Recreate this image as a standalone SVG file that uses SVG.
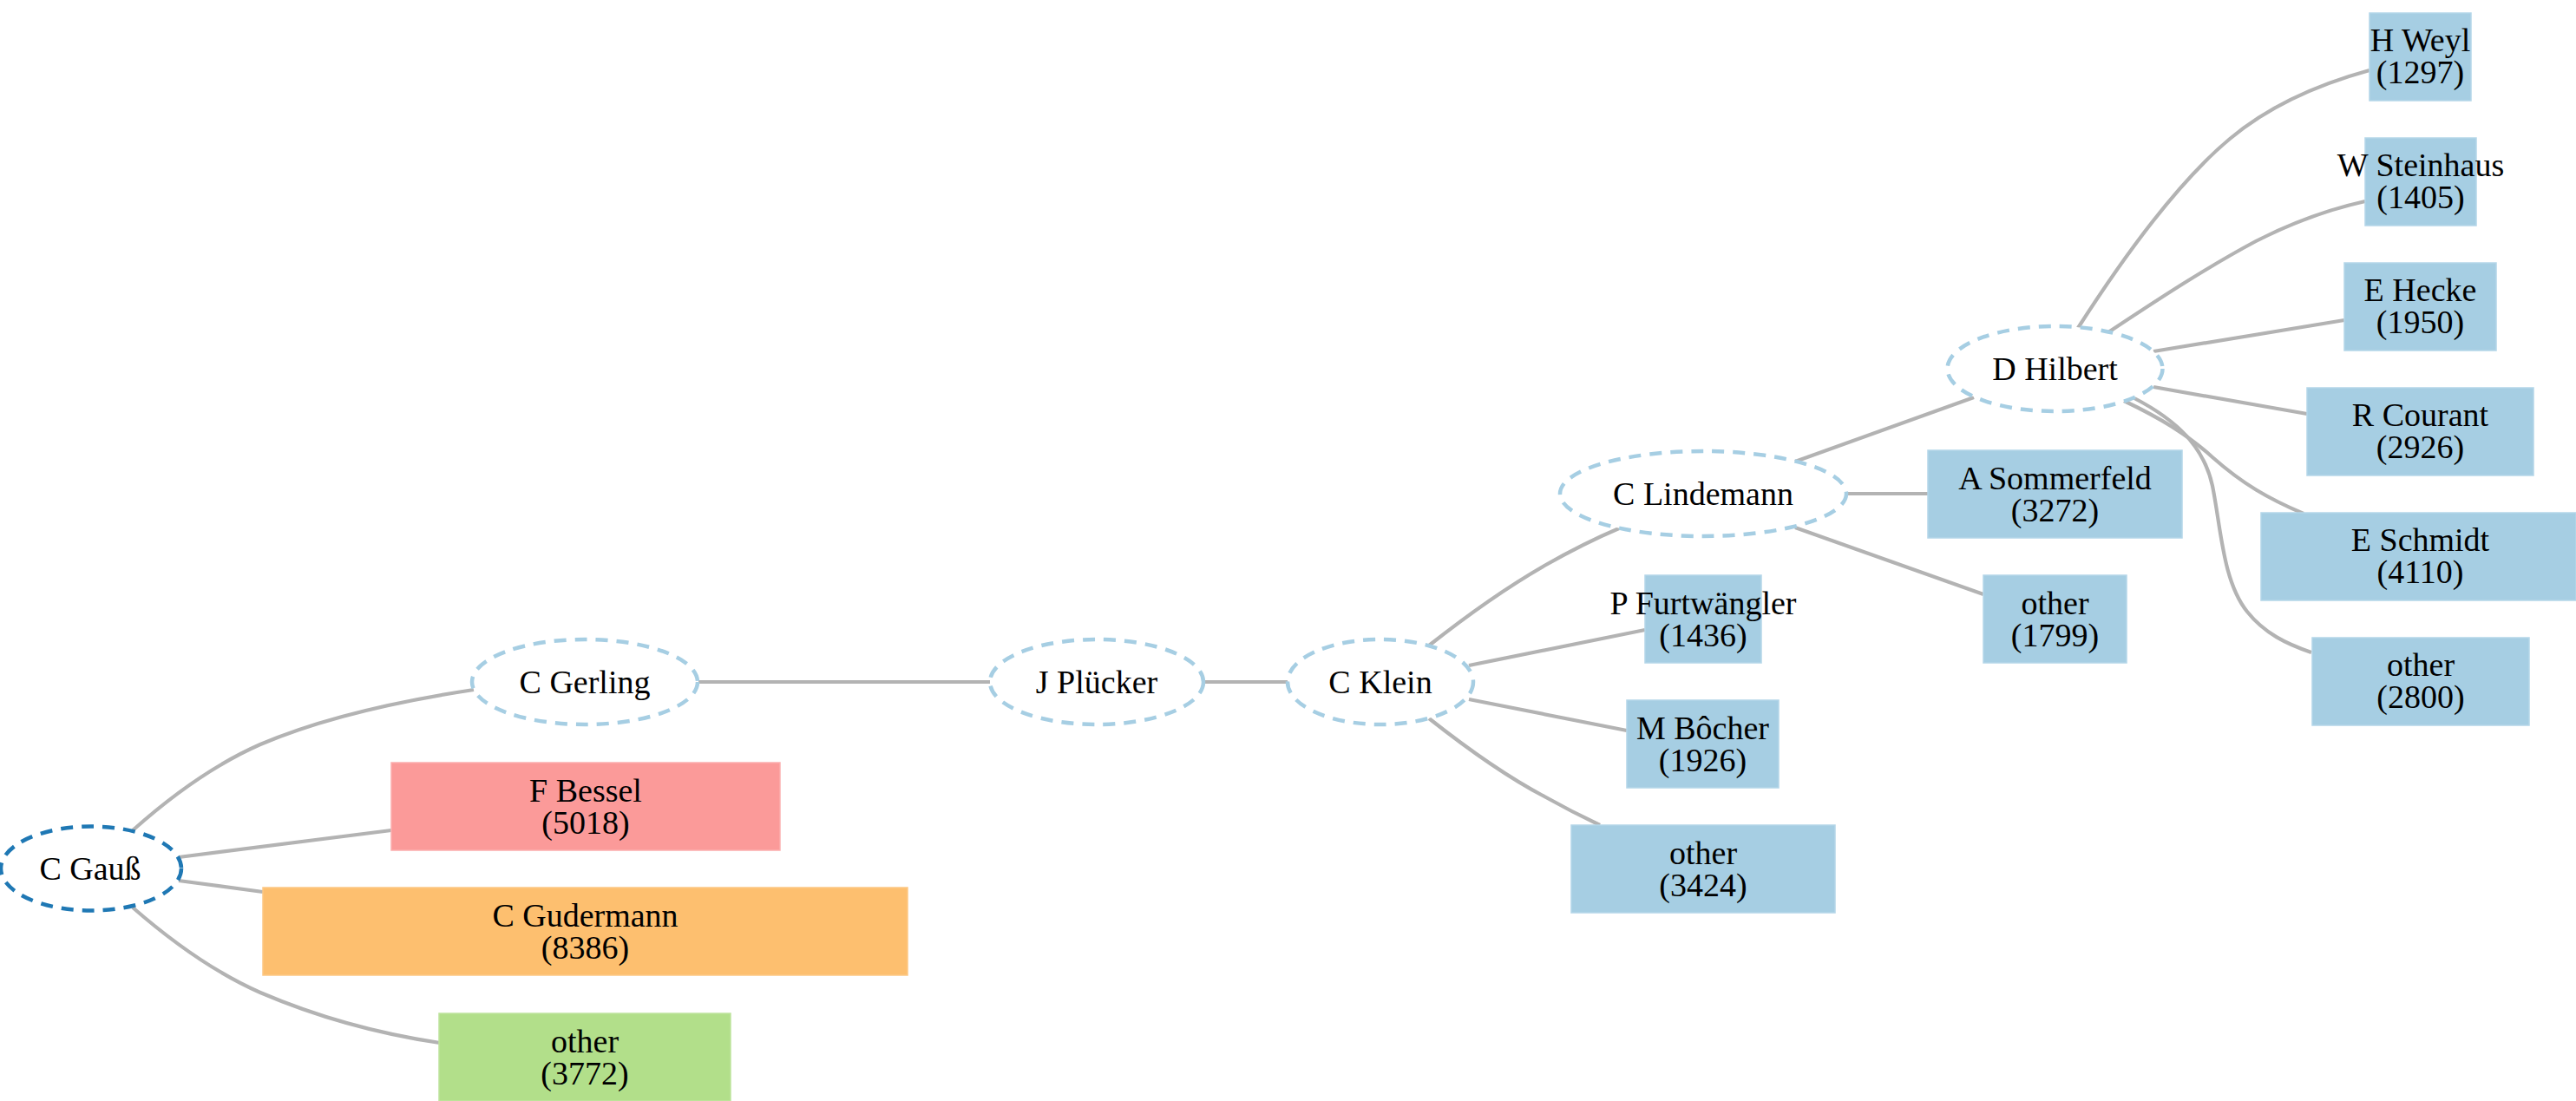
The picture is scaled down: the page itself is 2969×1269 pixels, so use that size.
<svg xmlns="http://www.w3.org/2000/svg" width="2969" height="1269" viewBox="0 0 2969 1269">
<style>
text{font-family:"Liberation Serif","Times New Roman",serif;font-size:38px;fill:#000;text-anchor:middle}
.e{fill:none;stroke:#b3b3b3;stroke-width:4.2}
.el{fill:#fff;stroke:#a6cee3;stroke-width:4.5;stroke-dasharray:14,10}
.root{fill:#fff;stroke:#1f78b4;stroke-width:4.5;stroke-dasharray:14,10}
.b{fill:#a6cee3;stroke:#b4d6e9;stroke-width:1.5}
.r{fill:#fb9a99;stroke:#fcaeae;stroke-width:1.5}
.o{fill:#fdbf6f;stroke:#fdc884;stroke-width:1.5}
.g{fill:#b2df8a;stroke:#bfe49e;stroke-width:1.5}
</style>
<rect width="2969" height="1269" fill="#fff"/>
<g id="connectors">
<path class="e" d="M153,957 C200,915 250,880 300,858 C370,828 460,808 546,795"/>
<path class="e" d="M206,988 L451,957"/>
<path class="e" d="M206,1015 L303,1028"/>
<path class="e" d="M153,1046 C200,1087 250,1122 300,1144 C370,1174 440,1192 507,1202"/>
<path class="e" d="M805,786 L1141,786"/>
<path class="e" d="M1388,786 L1484,786"/>
<path class="e" d="M1647,744 C1690,710 1740,675 1780,652 C1810,635 1840,620 1866,609"/>
<path class="e" d="M1693,767 L1896,726"/>
<path class="e" d="M1693,806 L1875,842"/>
<path class="e" d="M1647,828 C1690,862 1740,897 1780,918 C1805,932 1825,942 1844,951"/>
<path class="e" d="M2069,532 L2275,458"/>
<path class="e" d="M2128,569 L2222,569"/>
<path class="e" d="M2069,608 L2286,685"/>
<path class="e" d="M2395,378 C2445,300 2510,210 2570,160 C2620,118 2680,95 2731,81"/>
<path class="e" d="M2430,383 C2480,350 2540,310 2600,278 C2645,255 2690,240 2726,232"/>
<path class="e" d="M2482,405 L2702,369"/>
<path class="e" d="M2482,446 L2659,477"/>
<path class="e" d="M2448,462 C2490,482 2520,500 2550,527 C2585,558 2615,575 2655,592"/>
<path class="e" d="M2460,459 C2510,485 2540,515 2550,560 C2560,610 2562,670 2590,705 C2610,730 2635,742 2664,752"/>
</g>
<g id="gauss"><ellipse class="root" cx="105" cy="1001" rx="104" ry="48.5"/><text x="104" y="1014">C Gauß</text></g>
<g id="gerling"><ellipse class="el" cx="674" cy="786" rx="130" ry="49"/><text x="674" y="799">C Gerling</text></g>
<g id="bessel"><rect class="r" x="451" y="879" width="448" height="101"/><text x="675" y="924">F Bessel</text><text x="675" y="961">(5018)</text></g>
<g id="gudermann"><rect class="o" x="303" y="1023" width="743" height="101"/><text x="674.5" y="1068">C Gudermann</text><text x="674.5" y="1105">(8386)</text></g>
<g id="other3772"><rect class="g" x="506" y="1168" width="336" height="101"/><text x="674" y="1213">other</text><text x="674" y="1250">(3772)</text></g>
<g id="pluecker"><ellipse class="el" cx="1264" cy="786" rx="123" ry="49"/><text x="1264" y="799">J Plücker</text></g>
<g id="klein"><ellipse class="el" cx="1591" cy="786" rx="107" ry="49"/><text x="1591" y="799">C Klein</text></g>
<g id="furtwaengler"><rect class="b" x="1896" y="663" width="134" height="101"/><text x="1963" y="708">P Furtwängler</text><text x="1963" y="745">(1436)</text></g>
<g id="boecher"><rect class="b" x="1875" y="807" width="175" height="101"/><text x="1962.5" y="852">M Bôcher</text><text x="1962.5" y="889">(1926)</text></g>
<g id="other3424"><rect class="b" x="1811" y="951" width="304" height="101"/><text x="1963" y="996">other</text><text x="1963" y="1033">(3424)</text></g>
<g id="lindemann"><ellipse class="el" cx="1963" cy="569" rx="165" ry="49"/><text x="1963" y="582">C Lindemann</text></g>
<g id="sommerfeld"><rect class="b" x="2222" y="519" width="293" height="101"/><text x="2368.5" y="564">A Sommerfeld</text><text x="2368.5" y="601">(3272)</text></g>
<g id="other1799"><rect class="b" x="2286" y="663" width="165" height="101"/><text x="2368.5" y="708">other</text><text x="2368.5" y="745">(1799)</text></g>
<g id="hilbert"><ellipse class="el" cx="2368.5" cy="425" rx="124" ry="49"/><text x="2368.5" y="438">D Hilbert</text></g>
<g id="weyl"><rect class="b" x="2731" y="15" width="117" height="101"/><text x="2789.5" y="59">H Weyl</text><text x="2789.5" y="96">(1297)</text></g>
<g id="steinhaus"><rect class="b" x="2726" y="159" width="128" height="101"/><text x="2790" y="203">W Steinhaus</text><text x="2790" y="240">(1405)</text></g>
<g id="hecke"><rect class="b" x="2702" y="303" width="175" height="101"/><text x="2789.5" y="347">E Hecke</text><text x="2789.5" y="384">(1950)</text></g>
<g id="courant"><rect class="b" x="2659" y="447" width="261" height="101"/><text x="2789.5" y="491">R Courant</text><text x="2789.5" y="528">(2926)</text></g>
<g id="schmidt"><rect class="b" x="2606" y="591" width="363" height="101"/><text x="2789.5" y="635">E Schmidt</text><text x="2789.5" y="672">(4110)</text></g>
<g id="other2800"><rect class="b" x="2665" y="735" width="250" height="101"/><text x="2790" y="779">other</text><text x="2790" y="816">(2800)</text></g>
</svg>
